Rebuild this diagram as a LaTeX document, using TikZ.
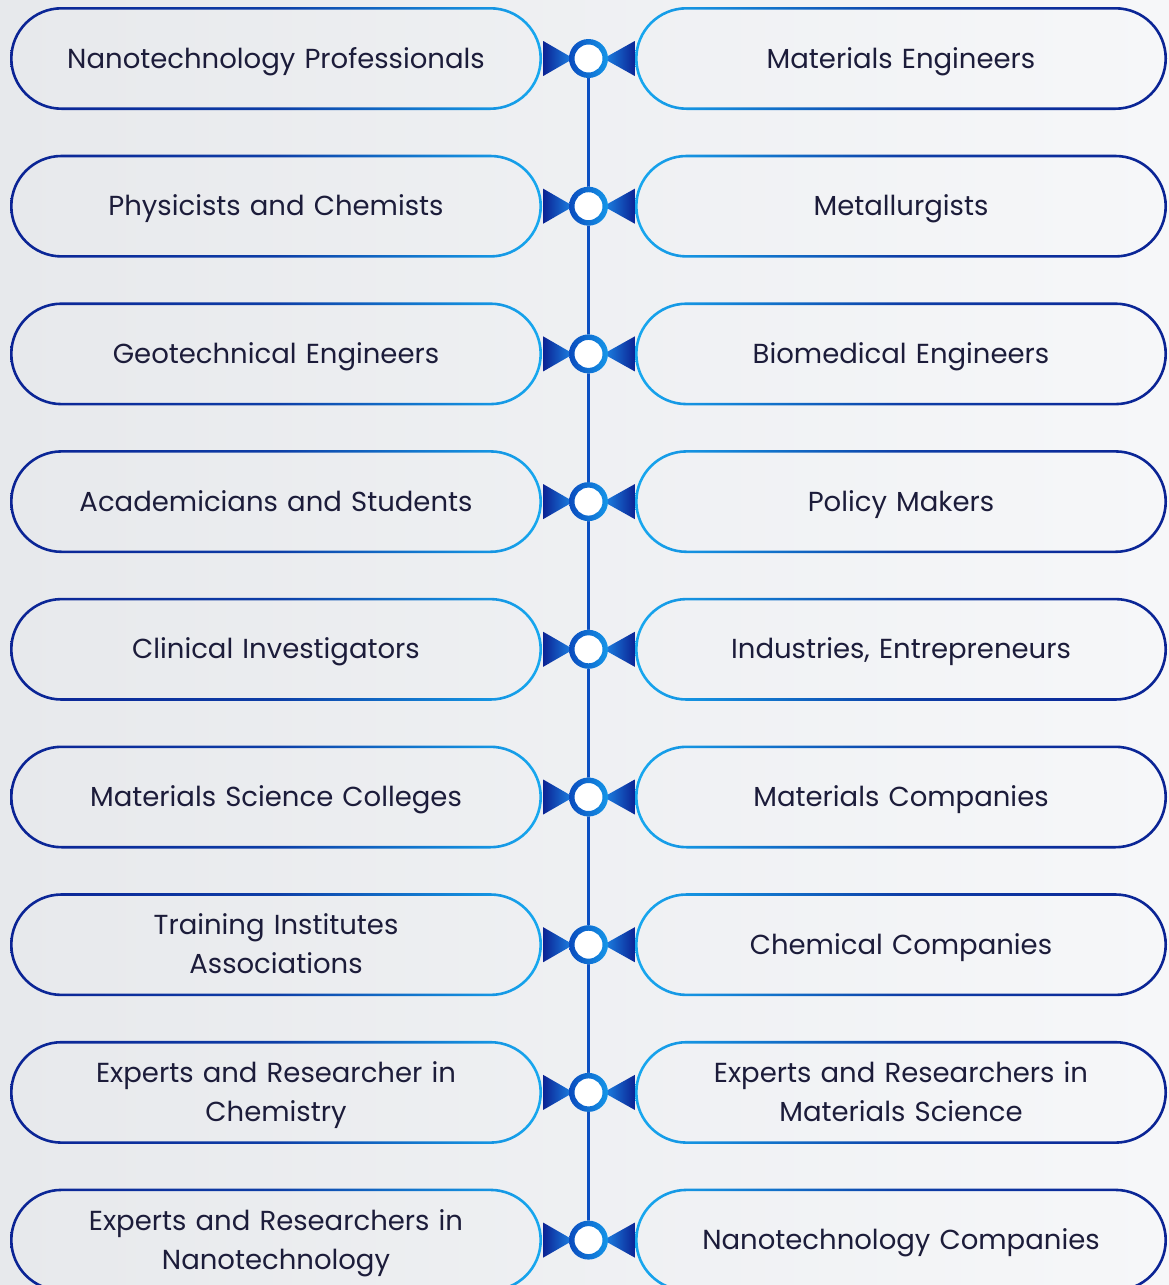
\documentclass[tikz,border=0pt]{standalone}
\usepackage{fontspec}
\setmainfont{Poppins}
\usepackage{tikz}
\usetikzlibrary{calc}

\begin{document}
\begin{tikzpicture}
		[x=1pt,y=-1pt,line cap=round,
		%Styles
		box/.style={rectangle,rounded corners=51.5pt,minimum width=532pt,minimum height=103pt,
			inner sep=0pt,text width=480pt,align=center,text=ink,
			text height=19.2pt,text depth=0pt,
			font=\fontsize{27.5}{39}\selectfont},
		two lines/.style={text depth=39pt},
		left box/.style={box,path picture={\shade[left color=navy,right color=sky,middle color=navy!80!sky,even odd rule]
			(path picture bounding box.south west) rectangle (path picture bounding box.north east)
			[rounded corners=48.9pt] ([shift={(2.6pt,2.6pt)}]path picture bounding box.south west)
			rectangle ([shift={(-2.6pt,-2.6pt)}]path picture bounding box.north east);}},
		right box/.style={box,path picture={\shade[left color=sky,right color=navy,middle color=navy!80!sky,even odd rule]
			(path picture bounding box.south west) rectangle (path picture bounding box.north east)
			[rounded corners=48.9pt] ([shift={(2.6pt,2.6pt)}]path picture bounding box.south west)
			rectangle ([shift={(-2.6pt,-2.6pt)}]path picture bounding box.north east);}},
		hub/.style={circle,minimum size=39pt,inner sep=0pt,fill=white,
			path picture={\shade[left color=hubdark,right color=hublight,even odd rule]
			(path picture bounding box.south west) rectangle (path picture bounding box.north east)
			(path picture bounding box.center) circle[radius=14pt];}},
		spine/.style={draw=spineblue,line width=2.2pt}
		]
		
		%Colors
		\definecolor{navy}{HTML}{0B2394}
		\definecolor{sky}{HTML}{17A9F0}
		\definecolor{tipblue}{HTML}{1C86E6}
		\definecolor{hubdark}{HTML}{0A4BBE}
		\definecolor{hublight}{HTML}{1596E8}
		\definecolor{spineblue}{HTML}{0B50C2}
		\definecolor{ink}{HTML}{1C1C3A}
		\definecolor{bgleft}{HTML}{E7E9EC}
		\definecolor{bgright}{HTML}{F6F7F9}
		
		%Background
		\useasboundingbox (0,0) rectangle (1169,1285);
		\shade[left color=bgleft,right color=bgright] (0,0) rectangle (1169,1285);
		
		%The graphic
		\node[left box] (l1) at (276,58.5) {Nanotechnology Professionals};
		\node[left box] (l2) at (276,206.2) {Physicists and Chemists};
		\node[left box] (l3) at (276,353.9) {Geotechnical Engineers};
		\node[left box] (l4) at (276,501.6) {Academicians and Students};
		\node[left box] (l5) at (276,649.3) {Clinical Investigators};
		\node[left box] (l6) at (276,797) {Materials Science Colleges};
		\node[left box,two lines] (l7) at (276,944.7) {Training Institutes\\Associations};
		\node[left box,two lines] (l8) at (276,1092.4) {Experts and Researcher in\\Chemistry};
		\node[left box,two lines] (l9) at (276,1240.1) {Experts and Researchers in\\Nanotechnology};
		
		\node[right box] (r1) at (901,58.5) {Materials Engineers};
		\node[right box] (r2) at (901,206.2) {Metallurgists};
		\node[right box] (r3) at (901,353.9) {Biomedical Engineers};
		\node[right box] (r4) at (901,501.6) {Policy Makers};
		\node[right box] (r5) at (901,649.3) {Industries, Entrepreneurs};
		\node[right box] (r6) at (901,797) {Materials Companies};
		\node[right box] (r7) at (901,944.7) {Chemical Companies};
		\node[right box,two lines] (r8) at (901,1092.4) {Experts and Researchers in\\Materials Science};
		\node[right box] (r9) at (901,1240.1) {Nanotechnology Companies};
		
		\foreach \i in {1,...,9}
			\coordinate (c\i) at ($(l\i.east)!0.5!(r\i.west)$);
		
		\path[spine] (c1) -- (c9);
		
		\foreach \i in {1,...,9}{
			\shade[left color=navy,right color=tipblue]
				([shift={(1pt,17.5pt)}]l\i.east) -- ([shift={(1pt,-17.5pt)}]l\i.east)
				-- ([xshift=-15pt]c\i) -- cycle;
			\shade[left color=tipblue,right color=navy]
				([shift={(0pt,17.5pt)}]r\i.west) -- ([shift={(0pt,-17.5pt)}]r\i.west)
				-- ([xshift=15pt]c\i) -- cycle;
			\node[hub] (h\i) at (c\i) {};
		}
	\end{tikzpicture}
\end{document}
